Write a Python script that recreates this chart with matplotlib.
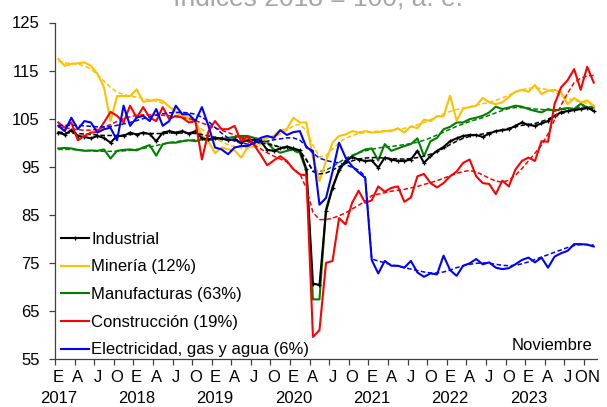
import numpy as np
import matplotlib
matplotlib.use("Agg")
import matplotlib.pyplot as plt

plt.rcParams['font.family'] = ['Liberation Sans', 'DejaVu Sans']

# meses ene-2017 .. nov-2023
months = np.arange(83)
month_letters = ["E", "A", "J", "O"]
years = ["2017", "2018", "2019", "2020", "2021", "2022", "2023"]

industrial = [102.1, 101.7, 102.6, 101.4, 101.2, 100.9, 101.4, 101.0, 100.0, 101.4, 101.4, 102.1,
              101.7, 102.1, 101.8, 100.3, 102.1, 102.4, 102.1, 102.4, 101.9, 102.4, 100.9, 100.7,
              101.0, 100.9, 100.5, 100.7, 100.0, 100.5, 100.6, 100.3, 98.5, 98.3, 98.8, 99.2,
              98.8, 98.4, 94.5, 70.7, 70.4, 85.7, 90.6, 94.4, 96.2, 97.0, 96.5, 96.2,
              96.3, 94.8, 96.9, 96.5, 96.2, 96.2, 96.5, 98.3, 95.8, 97.2, 98.3, 99.1,
              100.3, 100.9, 101.4, 101.6, 101.6, 101.2, 101.9, 102.4, 102.6, 102.8, 103.5, 104.2,
              103.7, 103.5, 104.0, 104.5, 105.6, 106.3, 106.6, 106.8, 107.0, 107.3, 106.6]
industrial_tend = [102.2, 102.1, 102.0, 101.9, 101.8, 101.7, 101.6, 101.5, 101.5, 101.5, 101.6, 101.7,
                   101.8, 101.9, 101.9, 101.9, 101.9, 102.0, 102.0, 102.0, 102.0, 101.9, 101.7, 101.4,
                   101.1, 100.8, 100.6, 100.5, 100.4, 100.3, 100.2, 100.0, 99.7, 99.4, 99.1, 98.9,
                   98.7, 98.3, 96.5, 94.0, 93.5, 93.7, 94.3, 95.0, 95.7, 96.2, 96.6, 96.8,
                   96.9, 96.9, 96.8, 96.7, 96.6, 96.6, 96.7, 96.9, 97.2, 97.6, 98.2, 98.8,
                   99.6, 100.3, 100.9, 101.3, 101.6, 101.8, 102.1, 102.4, 102.7, 103.0, 103.3, 103.6,
                   103.8, 104.0, 104.4, 104.9, 105.5, 106.0, 106.5, 106.8, 107.0, 107.1, 107.0]

mineria = [117.4, 116.0, 116.4, 116.5, 116.7, 116.0, 114.3, 111.5, 104.5, 109.7, 109.7, 109.7,
           111.1, 108.5, 108.7, 109.0, 108.7, 107.5, 106.3, 105.5, 105.2, 104.5, 101.4, 100.3,
           97.8, 99.0, 98.6, 98.4, 96.9, 99.0, 99.3, 100.3, 101.0, 101.4, 102.6, 102.8,
           105.2, 104.2, 104.2, 96.9, 92.0, 96.2, 100.0, 101.4, 101.7, 102.4, 102.1, 102.4,
           102.1, 102.2, 102.4, 102.4, 103.0, 102.1, 103.4, 103.0, 104.8, 104.5, 105.5, 105.5,
           109.8, 104.6, 107.1, 107.4, 107.7, 109.3, 108.4, 108.0, 108.4, 109.5, 110.6, 111.0,
           110.6, 112.0, 110.1, 110.8, 111.0, 110.5, 108.0, 109.3, 108.4, 108.8, 107.6]
mineria_tend = [117.0, 116.6, 116.5, 116.3, 116.0, 115.3, 114.2, 112.8, 111.5, 110.5, 110.0, 109.7,
                109.5, 109.2, 108.9, 108.6, 108.2, 107.6, 106.8, 105.8, 104.8, 103.8, 102.8, 101.8,
                100.9, 100.2, 99.6, 99.2, 98.9, 98.9, 99.2, 99.6, 100.2, 101.0, 101.8, 102.6,
                103.5, 103.8, 102.5, 99.5, 97.0, 97.3, 98.7, 100.0, 100.9, 101.5, 101.9, 102.1,
                102.3, 102.4, 102.5, 102.6, 102.8, 103.0, 103.3, 103.7, 104.2, 104.8, 105.4, 106.0,
                106.5, 106.9, 107.2, 107.5, 107.8, 108.1, 108.4, 108.8, 109.3, 109.9, 110.5, 111.0,
                111.3, 111.4, 111.3, 111.0, 110.5, 109.8, 109.2, 108.8, 108.5, 108.2, 107.9]

manufacturas = [98.8, 98.9, 98.8, 98.5, 98.3, 98.4, 98.3, 98.6, 96.7, 98.3, 98.5, 98.6,
                98.4, 99.0, 99.5, 97.3, 99.7, 100.0, 100.0, 100.3, 100.5, 100.3, 100.7, 100.5,
                100.8, 100.7, 101.0, 101.2, 101.4, 101.4, 101.0, 100.7, 100.0, 98.6, 97.9, 98.3,
                98.6, 97.9, 94.1, 67.4, 67.4, 86.2, 90.7, 94.1, 96.2, 97.2, 97.9, 98.6,
                98.8, 96.3, 99.7, 98.3, 98.8, 99.3, 99.7, 100.9, 97.2, 100.3, 101.0, 102.8,
                103.3, 104.2, 104.2, 104.9, 105.2, 105.6, 106.3, 107.5, 107.0, 107.3, 107.7, 107.5,
                107.0, 106.6, 106.3, 107.0, 106.6, 107.0, 107.2, 107.0, 108.1, 107.3, 107.3]
manufacturas_tend = [98.6, 98.6, 98.6, 98.5, 98.4, 98.3, 98.2, 98.2, 98.2, 98.2, 98.3, 98.4,
                     98.6, 98.8, 99.1, 99.4, 99.7, 100.0, 100.2, 100.4, 100.5, 100.6, 100.7, 100.7,
                     100.8, 100.9, 101.0, 101.1, 101.1, 101.0, 100.8, 100.5, 100.0, 99.5, 99.0, 98.6,
                     98.3, 97.8, 96.3, 94.3, 94.0, 94.3, 95.0, 95.9, 96.7, 97.4, 97.9, 98.3,
                     98.6, 98.9, 99.1, 99.2, 99.4, 99.6, 99.8, 100.1, 100.5, 101.0, 101.6, 102.2,
                     102.8, 103.4, 103.9, 104.4, 104.8, 105.2, 105.7, 106.2, 106.7, 107.1, 107.3, 107.3,
                     107.2, 107.0, 106.9, 106.8, 106.8, 106.9, 107.0, 107.2, 107.4, 107.5, 107.5]

construccion = [104.2, 103.1, 104.2, 100.5, 101.4, 102.1, 102.2, 104.2, 106.4, 105.6, 104.2, 107.7,
                105.2, 107.4, 105.2, 104.5, 107.4, 104.9, 105.6, 105.2, 104.2, 104.5, 96.5, 102.3,
                104.5, 102.8, 102.8, 103.5, 100.3, 101.3, 99.5, 97.5, 95.3, 96.3, 97.2, 96.2,
                94.5, 93.4, 93.2, 59.6, 61.0, 75.0, 75.4, 84.3, 83.0, 87.5, 90.0, 87.5,
                88.0, 90.9, 89.8, 90.6, 90.9, 87.7, 88.6, 93.0, 93.5, 91.6, 90.7, 91.6,
                93.0, 94.0, 95.8, 96.5, 93.0, 91.6, 91.4, 89.3, 92.1, 90.9, 94.4, 96.2,
                96.9, 96.2, 100.3, 100.2, 108.0, 111.5, 113.0, 115.3, 111.0, 115.8, 112.5]
construccion_tend = [103.3, 103.1, 102.9, 102.7, 102.6, 102.6, 102.8, 103.2, 103.8, 104.4, 105.0, 105.4,
                     105.7, 105.8, 105.8, 105.8, 105.7, 105.6, 105.4, 105.2, 105.0, 104.6, 104.1, 103.6,
                     103.1, 102.6, 102.1, 101.6, 101.0, 100.3, 99.5, 98.7, 97.9, 97.2, 96.6, 96.0,
                     94.5, 93.5, 90.5, 85.5, 84.0, 84.0, 84.3, 84.8, 85.4, 86.2, 87.0, 87.8,
                     89.0, 89.3, 89.6, 89.9, 90.1, 90.3, 90.6, 90.9, 91.3, 91.7, 92.1, 92.6,
                     93.1, 93.6, 94.0, 94.2, 93.9, 93.3, 92.6, 92.0, 91.8, 92.2, 93.2, 94.6,
                     96.2, 97.8, 99.5, 101.8, 104.8, 107.8, 110.3, 112.5, 113.4, 113.9, 114.0]

electricidad = [103.5, 102.4, 105.2, 102.8, 104.5, 104.2, 102.1, 102.8, 103.1, 100.5, 107.7, 103.5,
                105.2, 105.6, 104.5, 107.0, 103.5, 104.5, 107.7, 105.9, 105.9, 104.5, 107.4, 103.5,
                99.0, 98.6, 97.6, 99.0, 99.3, 99.3, 100.0, 101.0, 101.4, 101.0, 102.6, 101.6,
                102.2, 102.4, 99.0, 98.3, 87.1, 88.5, 94.0, 100.0, 96.9, 95.1, 93.8, 92.7,
                75.6, 72.8, 75.4, 74.4, 74.4, 74.0, 75.4, 73.0, 72.1, 72.8, 72.6, 76.5,
                73.5, 72.3, 74.4, 74.9, 75.8, 74.7, 75.1, 74.0, 73.7, 73.9, 74.7, 75.6,
                76.1, 75.1, 76.1, 74.0, 76.3, 77.0, 77.5, 78.9, 78.9, 78.8, 78.4]
electricidad_tend = [103.6, 103.6, 103.6, 103.6, 103.5, 103.4, 103.3, 103.3, 103.4, 103.6, 103.9, 104.2,
                     104.6, 105.0, 105.4, 105.7, 106.0, 106.2, 106.3, 106.3, 106.2, 105.9, 105.3, 104.4,
                     103.2, 102.0, 101.0, 100.3, 99.9, 99.7, 99.8, 100.0, 100.3, 100.6, 100.8, 101.0,
                     101.0, 100.5, 99.3, 97.8, 96.8, 96.3, 96.0, 95.8, 95.4, 94.9, 94.3, 93.0,
                     75.8, 75.4, 75.0, 74.6, 74.3, 74.0, 73.7, 73.4, 73.1, 72.9, 72.9, 73.1,
                     73.5, 74.0, 74.4, 74.7, 74.9, 75.0, 74.9, 74.7, 74.5, 74.4, 74.5, 74.8,
                     75.2, 75.7, 76.2, 76.7, 77.2, 77.7, 78.2, 78.6, 78.8, 78.8, 78.7]

fig = plt.figure(figsize=(6.07, 4.07), dpi=100)
ax = fig.add_axes([55 / 607, 1 - 359 / 407, 542 / 607, 336.5 / 407])

dash = (0, (3, 1.6))
series = [
    (manufacturas, manufacturas_tend, "#008000", "Manufacturas (63%)"),
    (mineria, mineria_tend, "#FFC000", "Minería (12%)"),
    (industrial, industrial_tend, "black", "Industrial"),
    (construccion, construccion_tend, "#FF0000", "Construcción (19%)"),
    (electricidad, electricidad_tend, "#0000FF", "Electricidad, gas y agua (6%)"),
]
handles = {}
for vals, tend, col, lab in series:
    ax.plot(months, tend, color=col, lw=1.1, ls=dash)
    if lab == "Industrial":
        h, = ax.plot(months, vals, color=col, lw=1.5, marker="+", ms=3.5, mew=0.9)
    else:
        h, = ax.plot(months, vals, color=col, lw=1.5)
    handles[lab] = h

order = ["Industrial", "Minería (12%)", "Manufacturas (63%)", "Construcción (19%)",
         "Electricidad, gas y agua (6%)"]
leg = ax.legend([handles[k] for k in order], order, loc="lower left",
                bbox_to_anchor=(0.005, -0.005), frameon=False, fontsize=12,
                handlelength=1.68, handletextpad=0.12, labelspacing=0.76,
                borderaxespad=0.0, borderpad=0.2)

ax.text(0.991, 0.039, "Noviembre", transform=ax.transAxes, ha="right", va="center",
        fontsize=12)

ax.set_ylim(55, 125)
ax.set_yticks(np.arange(55, 126, 10))
ax.set_xlim(-0.5, 82.5)

# letras de los meses
tick_pos = list(range(0, 83, 3)) + [82]
tick_lab = [month_letters[(i % 12) // 3] for i in range(0, 83, 3)] + ["N"]
ax.set_xticks(tick_pos)
ax.set_xticklabels(tick_lab, fontsize=12)
ax.get_xticklabels()[-2].set_ha("right")
ax.set_xticks(np.arange(-0.5, 82, 3), minor=True)
ax.tick_params(axis="x", which="major", length=0, pad=8)
ax.tick_params(axis="x", which="minor", length=4, width=0.9, color="#404040", direction="out")
ax.tick_params(axis="y", length=4, width=0.9, color="#404040", direction="out", pad=7,
               labelsize=12)

# años en una segunda fila
secax = ax.secondary_xaxis("bottom")
secax.set_xticks(np.arange(0, 83, 12))
secax.set_xticklabels(years, fontsize=12)
secax.tick_params(length=0, pad=23)
secax.spines["bottom"].set_visible(False)

for s in ["top", "right"]:
    ax.spines[s].set_visible(False)
for s in ["left", "bottom"]:
    ax.spines[s].set_color("#404040")
    ax.spines[s].set_linewidth(0.9)

fig.text(0.524, 1 - 6 / 407, "Índices 2018 = 100, a. e.", ha="center", va="baseline",
         fontsize=19, color="#A6A6A6")

fig.savefig("out.png", dpi=100)
